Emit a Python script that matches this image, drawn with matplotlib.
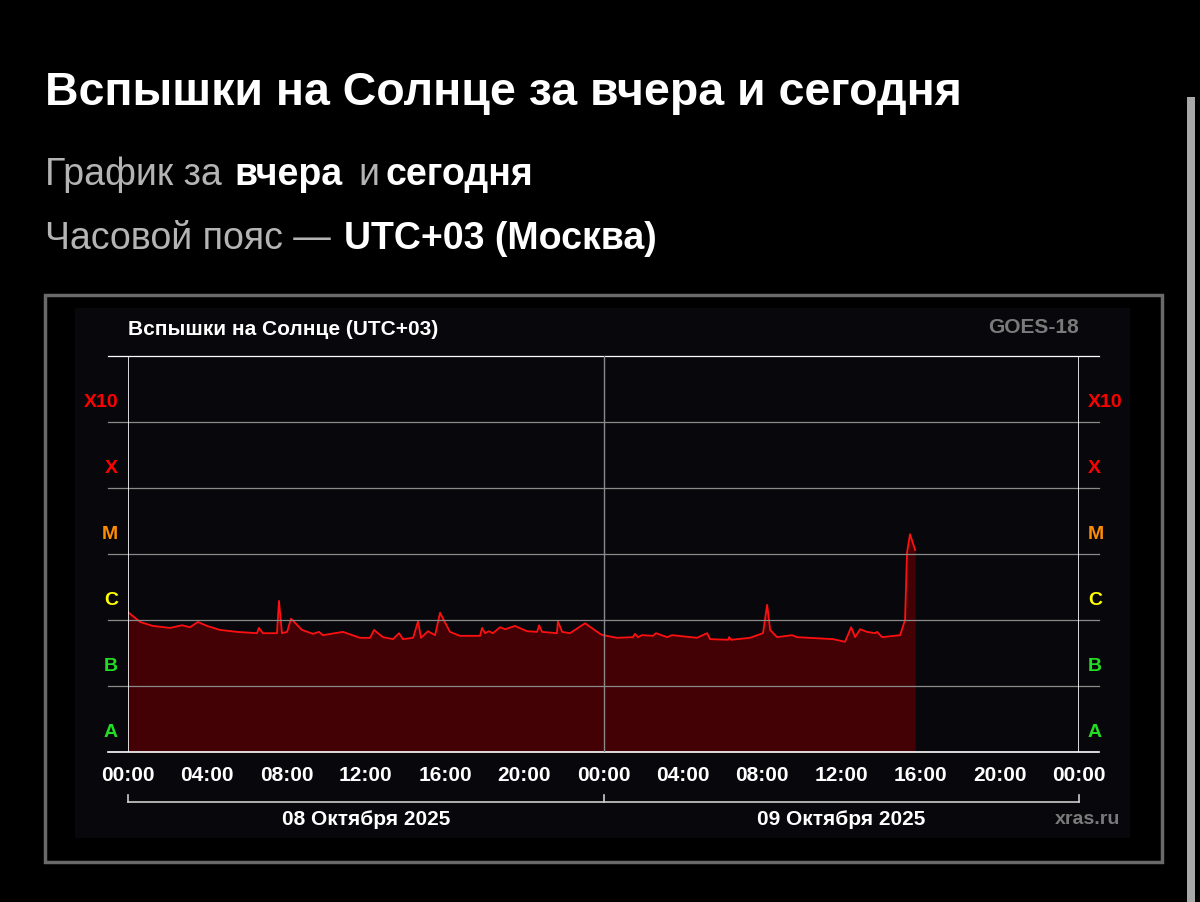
import matplotlib
matplotlib.use("Agg")
import matplotlib.pyplot as plt
from matplotlib.patches import Rectangle
import numpy as np

plt.rcParams['font.family'] = ['Liberation Sans', 'DejaVu Sans']

# hours since 08 Oct 00:00 (UTC+03), log10 of X-ray flux (W/m^2)
hours = [0, 0.61, 1.26, 2.12, 2.73, 3.13, 3.53, 3.99, 4.64, 5.50, 6.51, 6.61, 6.81,
         7.52, 7.62, 7.77, 8.03, 8.23, 8.78, 9.34, 9.64, 9.84, 10.85, 11.71, 12.22,
         12.42, 12.62, 12.87, 13.38, 13.68, 13.88, 14.39, 14.64, 14.79, 15.14, 15.50,
         15.75, 16.25, 16.76, 17.77, 17.87, 18.02, 18.22, 18.42, 18.78, 19.03, 19.53,
         20.14, 20.65, 20.75, 20.90, 21.65, 21.70, 21.91, 22.31, 23.07, 23.83, 23.98,
         24.68, 25.49, 25.59, 25.74, 25.94, 26.50, 26.65, 27.21, 27.46, 28.72, 29.23,
         29.38, 30.29, 30.34, 30.44, 31.40, 32.05, 32.26, 32.41, 32.76, 33.52, 33.77,
         35.59, 36.19, 36.50, 36.70, 36.95, 37.30, 37.71, 37.81, 38.06, 38.97, 39.22,
         39.32, 39.47, 39.73]
log_flux = [-5.88, -6.03, -6.09, -6.12, -6.08, -6.11, -6.03, -6.09, -6.15, -6.18, -6.20,
            -6.12, -6.20, -6.20, -5.71, -6.20, -6.18, -5.98, -6.15, -6.21, -6.18, -6.23,
            -6.18, -6.27, -6.27, -6.15, -6.20, -6.26, -6.29, -6.20, -6.29, -6.27, -6.02,
            -6.27, -6.17, -6.23, -5.89, -6.18, -6.24, -6.24, -6.12, -6.20, -6.17, -6.20,
            -6.11, -6.14, -6.09, -6.17, -6.18, -6.08, -6.18, -6.20, -6.02, -6.18, -6.20,
            -6.05, -6.21, -6.23, -6.27, -6.26, -6.21, -6.26, -6.23, -6.24, -6.20, -6.26,
            -6.23, -6.27, -6.20, -6.29, -6.30, -6.26, -6.30, -6.27, -6.20, -5.77, -6.15,
            -6.26, -6.23, -6.26, -6.29, -6.33, -6.11, -6.26, -6.14, -6.18, -6.20, -6.18,
            -6.26, -6.23, -6.00, -4.98, -4.70, -4.94]

levels = ['A', 'B', 'C', 'M', 'X', 'X10']
level_colors = ['#22dd22', '#22dd22', '#ffff00', '#ff8c00', '#ff0000', '#ff0000']
tick_hours = list(range(0, 49, 4))
tick_labels = ['%02d:00' % (h % 24) for h in tick_hours]
dates = ['08 Октября 2025', '09 Октября 2025']

fig = plt.figure(figsize=(12, 9.02), dpi=100, facecolor='black')

def fx(x):
    return x / 1200

def fy(y):
    return 1 - y / 902

# header
fig.text(fx(45), fy(93), 'Вспышки на Солнце за вчера и сегодня', color='white',
         fontsize=33.5, fontweight='bold', va='center')
sub = [('График за ', 45, False), ('вчера', 234, True), ('и', 358, False), ('сегодня', 385, True)]
for s, x, b in sub:
    fig.text(fx(x), fy(175), s, color='white' if b else '#b4b4b4', fontsize=27,
             fontweight='bold' if b else 'normal', va='center')
fig.text(fx(45), fy(239), 'Часовой пояс — ', color='#b4b4b4', fontsize=27, va='center')
fig.text(fx(344), fy(239), 'UTC+03 (Москва)', color='white', fontsize=27,
         fontweight='bold', va='center')

# panels + scrollbar
fig.patches.append(Rectangle((fx(45), fy(862)), fx(1117), 567 / 902, transform=fig.transFigure,
                             facecolor='black', edgecolor='#6a6a6a', lw=2.5))
fig.patches.append(Rectangle((fx(75), fy(838)), fx(1055), 530 / 902, transform=fig.transFigure,
                             facecolor='#08080c', edgecolor='none'))
fig.patches.append(Rectangle((fx(1187), fy(902)), fx(8), 805 / 902, transform=fig.transFigure,
                             facecolor='#a8a8a8', edgecolor='none'))

ax = fig.add_axes([fx(128), fy(752), 951 / 1200, 396 / 902])
ax.set_zorder(5)
ax.set_facecolor('none')
ax.set_xlim(0, 48)
ax.set_ylim(-8, -2)
ax.axis('off')

ax.fill_between(hours, -8, log_flux, color='#430005', lw=0)
ax.plot(hours, log_flux, color='#ff1010', lw=1.3)

# grid lines extending past the plot edges
for lv in range(-7, -1):
    ax.plot([-1.0, 49.0], [lv, lv], color='#8a8a8a' if lv < -2 else 'white', lw=0.9, clip_on=False)
ax.plot([-1.0, 49.0], [-8, -8], color='white', lw=1.2, clip_on=False)
ax.plot([0, 0], [-8, -2], color='white', lw=1.2)
ax.plot([48, 48], [-8, -2], color='white', lw=1.2)
ax.plot([24, 24], [-8, -2], color='#8a8a8a', lw=1.0)

for i, (lab, c) in enumerate(zip(levels, level_colors)):
    y = -8 + i + 0.3
    ax.text(-0.5, y, lab, color=c, fontsize=14, fontweight='bold', ha='right', va='center')
    ax.text(48.45, y, lab, color=c, fontsize=14, fontweight='bold', ha='left', va='center')

for h, lab in zip(tick_hours, tick_labels):
    ax.text(h, -8.35, lab, color='white', fontsize=15, fontweight='bold', ha='center', va='center')

# date bracket
yb = -8.75
ax.plot([0, 48], [yb, yb], color='#cccccc', lw=1.2, clip_on=False)
for h in [0, 24, 48]:
    ax.plot([h, h], [yb, yb + 0.1], color='#cccccc', lw=1.2, clip_on=False)
ax.text(12, -9.02, dates[0], color='white', fontsize=15, fontweight='bold', ha='center', va='center')
ax.text(36, -9.02, dates[1], color='white', fontsize=15, fontweight='bold', ha='center', va='center')
ax.text(50.1, -9.02, 'xras.ru', color='#7a7a7a', fontsize=14, fontweight='bold', ha='right', va='center')

ax.text(0, -1.6, 'Вспышки на Солнце (UTC+03)', color='white', fontsize=15,
        fontweight='bold', ha='left', va='center')
ax.text(48, -1.57, 'GOES-18', color='#7a7a7a', fontsize=15, fontweight='bold',
        ha='right', va='center')

fig.savefig('out.png', dpi=100, facecolor='black')
